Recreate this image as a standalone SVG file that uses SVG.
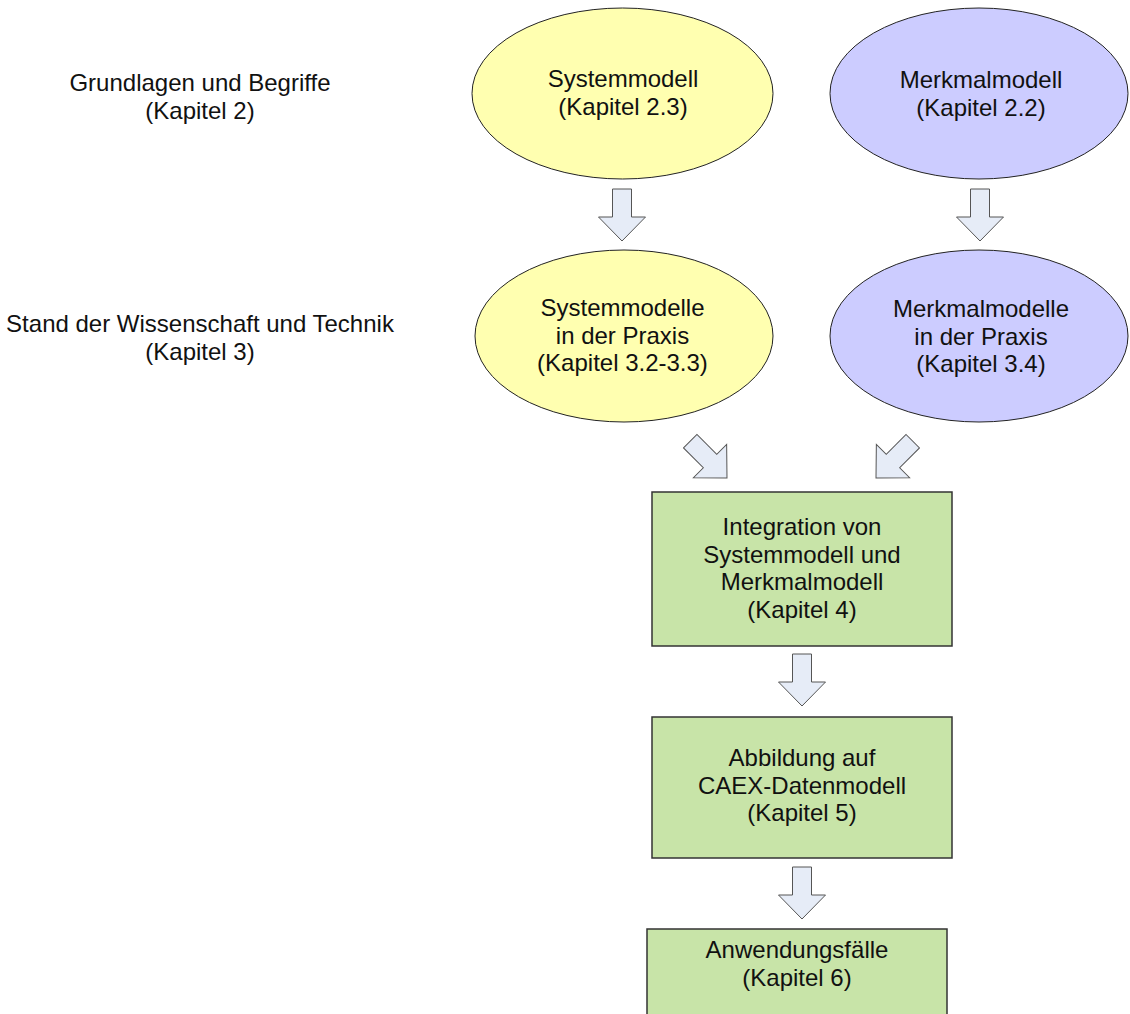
<svg xmlns="http://www.w3.org/2000/svg" xmlns:xlink="http://www.w3.org/1999/xlink" width="1130" height="1014" viewBox="0 0 1130 1014">
  <style>
    text { font-family: "Liberation Sans", Arial, sans-serif; font-size: 24px; fill: #111; text-anchor: middle; }
    .yellow { fill: #FFFFB0; stroke: #222; stroke-width: 1; }
    .lilac { fill: #CCCCFF; stroke: #222; stroke-width: 1; }
    .box { fill: #C8E4A8; stroke: #333; stroke-width: 1.5; }
    .flow { fill: #E6ECF7; stroke: #555; stroke-width: 1; }
  </style>
  <defs>
    <!-- block arrow pointing down, tip at origin -->
    <path id="blockArrow" d="M-9.5,-52 H9.5 V-24 H23.5 L0,0 L-23.5,-24 H-9.5 Z"/>
  </defs>

  <rect width="1130" height="1014" fill="#fff"/>

  <!-- chapter labels -->
  <g id="label-grundlagen">
    <text x="200" y="91">Grundlagen und Begriffe</text>
    <text x="200" y="118.5">(Kapitel 2)</text>
  </g>
  <g id="label-stand">
    <text x="200" y="332">Stand der Wissenschaft und Technik</text>
    <text x="200" y="359.5">(Kapitel 3)</text>
  </g>

  <!-- nodes -->
  <g id="systemmodell">
    <ellipse class="yellow" cx="622.5" cy="93.5" rx="150.5" ry="85.5"/>
    <text x="623" y="87">Systemmodell</text>
    <text x="623" y="114.5">(Kapitel 2.3)</text>
  </g>
  <g id="merkmalmodell">
    <ellipse class="lilac" cx="979" cy="93.5" rx="149" ry="85.5"/>
    <text x="981" y="88">Merkmalmodell</text>
    <text x="981" y="115.5">(Kapitel 2.2)</text>
  </g>
  <g id="systemmodelle-praxis">
    <ellipse class="yellow" cx="624" cy="336" rx="149" ry="86"/>
    <text x="622.5" y="316">Systemmodelle</text>
    <text x="622.5" y="343.5">in der Praxis</text>
    <text x="622.5" y="371">(Kapitel 3.2-3.3)</text>
  </g>
  <g id="merkmalmodelle-praxis">
    <ellipse class="lilac" cx="979" cy="336" rx="149" ry="86"/>
    <text x="981" y="317">Merkmalmodelle</text>
    <text x="981" y="344.5">in der Praxis</text>
    <text x="981" y="372">(Kapitel 3.4)</text>
  </g>
  <g id="integration">
    <rect class="box" x="652" y="492" width="300" height="154"/>
    <text x="802" y="535">Integration von</text>
    <text x="802" y="562.5">Systemmodell und</text>
    <text x="802" y="590">Merkmalmodell</text>
    <text x="802" y="617.5">(Kapitel 4)</text>
  </g>
  <g id="abbildung">
    <rect class="box" x="652" y="717" width="300" height="141"/>
    <text x="802" y="766">Abbildung auf</text>
    <text x="802" y="793.5">CAEX-Datenmodell</text>
    <text x="802" y="821">(Kapitel 5)</text>
  </g>
  <g id="anwendungsfaelle">
    <rect class="box" x="647" y="929" width="300" height="100"/>
    <text x="797" y="958">Anwendungsfälle</text>
    <text x="797" y="985.5">(Kapitel 6)</text>
  </g>

  <!-- connectors -->
  <g id="connectors">
    <use xlink:href="#blockArrow" class="flow" transform="translate(622,241)"/>
    <use xlink:href="#blockArrow" class="flow" transform="translate(980,241)"/>
    <use xlink:href="#blockArrow" class="flow" transform="translate(727,478) rotate(-45)"/>
    <use xlink:href="#blockArrow" class="flow" transform="translate(876,478) rotate(45)"/>
    <use xlink:href="#blockArrow" class="flow" transform="translate(802,706)"/>
    <use xlink:href="#blockArrow" class="flow" transform="translate(802,919)"/>
  </g>
</svg>
